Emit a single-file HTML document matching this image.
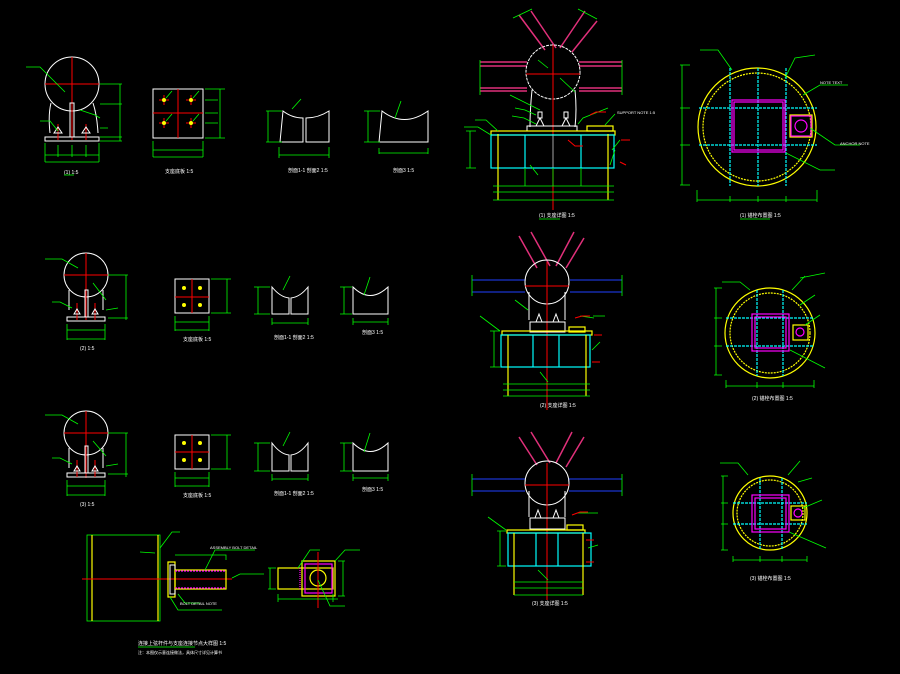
<!DOCTYPE html>
<html><head><meta charset="utf-8"><style>
html,body{margin:0;padding:0;background:#000;}
svg{display:block}
text{font-family:"Liberation Sans","Noto Sans CJK SC",sans-serif;font-size:5px;fill:#fff}
.w{stroke:#fff;fill:none;stroke-width:1}
.g{stroke:#0f0;fill:none;stroke-width:.8}
.r{stroke:#f00;fill:none;stroke-width:1}
.y{stroke:#ff0;fill:none;stroke-width:1.2}
.c{stroke:#0ff;fill:none;stroke-width:1.2}
.m{stroke:#f0f;fill:none;stroke-width:1.2}
.p{stroke:#e0307a;fill:none;stroke-width:1.5}
.b{stroke:#2040ff;fill:none;stroke-width:1}
.gt{fill:#0f0}
</style></head><body>
<svg width="900" height="674" viewBox="0 0 900 674" xmlns="http://www.w3.org/2000/svg">
<defs>
<g id="elev">
 <circle cx="0" cy="0" r="1" class="w"/>
</g>
</defs>

<!-- ROW 1 elevation -->
<g>
 <circle cx="72" cy="84" r="27" class="w"/>
 <line x1="45" y1="84" x2="99" y2="84" class="r"/>
 <line x1="72" y1="57" x2="72" y2="140" class="r"/>
 <path d="M51 103 Q48 115 50 133 M93 103 Q97 115 98 133" class="w"/>
 <rect x="45" y="137" width="54" height="4" class="w"/>
 <rect x="70" y="103" width="4" height="34" class="w"/>
 <line x1="58" y1="124" x2="58" y2="140" class="r"/><line x1="86" y1="124" x2="86" y2="140" class="r"/>
 <path d="M54 133 l4 -6 l4 6 Z M82 133 l4 -6 l4 6 Z" class="w"/>
 <path d="M26 67 L40 67 L65 92 M40 121 L50 121 L58 131 M80 110 L95 115 L100 118 M100 128 L108 128" class="g"/>
 <path d="M45 143 V162 M99 143 V162 M45 155 H99 M45 162 H99 M58 145 V157 M72 145 V157 M86 145 V157" class="g"/>
 <path d="M100 84 H122 M100 104 H122 M100 137 H122 M100 141 H122 M120 84 V141" class="g"/>
 <text x="64" y="174" class="gt" fill="#fff" style="fill:#fff">(1) 1:5</text>
 <line x1="64" y1="175" x2="74" y2="175" class="g"/>
</g>
<!-- ROW1 plan -->
<g>
 <rect x="153" y="89" width="50" height="49" class="w"/>
 <line x1="153" y1="113" x2="203" y2="113" class="r"/><line x1="178" y1="89" x2="178" y2="138" class="r"/>
 <g class="r"><path d="M159 100h10M164 95v10M186 100h10M191 95v10M159 123h10M164 118v10M186 123h10M191 118v10"/></g>
 <g fill="#ff0"><circle cx="164" cy="100" r="2"/><circle cx="191" cy="100" r="2"/><circle cx="164" cy="123" r="2"/><circle cx="191" cy="123" r="2"/></g>
 <path d="M166 98 L172 91 M193 98 L199 91 M166 121 L172 114 M193 121 L199 114" class="g"/>
 <path d="M205 89 H225 M205 138 H225 M220 89 V138 M205 100 H218 M205 113 H218 M205 123 H218 M153 141 V157 M203 141 V157 M153 150 H203 M153 157 H203" class="g"/>
 <text x="165" y="173" style="fill:#fff">支座底板 1:5</text>
</g>
<!-- ROW1 sections -->
<g>
 <path d="M283 111 L280 142 H303 V118 Q292 118 283 111 Z M306 142 V118 Q318 118 329 111 L329 142 Z" class="w"/>
 <path d="M266 111 H282 M266 142 H282 M268 111 V142 M279 147 V158 M329 147 V158 M279 155 H329 M292 109 L301 99" class="g"/>
 <text x="288" y="172" style="fill:#fff">剖面1-1 剖面2 1:5</text>
 <path d="M382 111 L379 142 H428 V111 Q404 128 382 111 Z" class="w"/>
 <path d="M364 111 H380 M364 142 H380 M368 111 V142 M379 148 V154 M428 148 V154 M379 153 H428 M395 118 L401 101" class="g"/>
 <text x="393" y="172" style="fill:#fff">剖面3 1:5</text>
</g>

<!-- ROW 2 -->
<g>
 <circle cx="86" cy="275" r="22" class="w"/>
 <line x1="64" y1="275" x2="108" y2="275" class="r"/><line x1="86" y1="253" x2="86" y2="320" class="r"/>
 <path d="M69 290 V310 M103 290 V310" class="w"/>
 <rect x="67" y="317" width="38" height="4" class="w"/>
 <rect x="85" y="290" width="3" height="27" class="w"/>
 <line x1="77" y1="303" x2="77" y2="320" class="r"/><line x1="95" y1="303" x2="95" y2="320" class="r"/>
 <path d="M74 314 l3 -5 l3 5 Z M92 314 l3 -5 l3 5 Z" class="w"/>
 <path d="M45 259 L62 259 L78 268 M52 302 L60 302 L72 308 M93 283 L106 300 M106 310 L118 308" class="g"/>
 <path d="M108 275 H128 M108 318 H128 M126 275 V320 M67 324 V340 M105 324 V340 M67 330 H105 M67 339 H105" class="g"/>
 <text x="80" y="350" style="fill:#fff">(2) 1:5</text>
 <rect x="175" y="279" width="34" height="34" class="w"/>
 <line x1="175" y1="297" x2="209" y2="297" class="r"/><line x1="192" y1="279" x2="192" y2="313" class="r"/>
 <g fill="#ff0"><circle cx="184" cy="288" r="2"/><circle cx="200" cy="288" r="2"/><circle cx="184" cy="305" r="2"/><circle cx="200" cy="305" r="2"/></g>
 <path d="M211 279 H231 M211 313 H231 M227 279 V313 M175 316 V331 M209 316 V331 M175 322 H209 M175 330 H209" class="g"/>
 <text x="183" y="341" style="fill:#fff">支座底板 1:5</text>
 <path d="M272 287 V314 H289 V298 Q280 297 272 287 Z M291 314 V298 Q300 297 308 287 V314 Z" class="w"/>
 <path d="M254 287 H270 M254 314 H270 M258 287 V314 M272 318 V325 M308 318 V325 M272 323 H308 M283 290 L290 276" class="g"/>
 <text x="274" y="339" style="fill:#fff">剖面1-1 剖面2 1:5</text>
 <path d="M353 287 V314 H388 V287 Q370 304 353 287 Z" class="w"/>
 <path d="M340 287 H352 M340 314 H352 M344 287 V314 M353 318 V325 M388 318 V325 M353 322 H388 M364 295 L370 277" class="g"/>
 <text x="362" y="334" style="fill:#fff">剖面3 1:5</text>
</g>

<!-- ROW 3 -->
<g>
 <circle cx="86" cy="433" r="22" class="w"/>
 <line x1="64" y1="433" x2="108" y2="433" class="r"/><line x1="86" y1="411" x2="86" y2="478" class="r"/>
 <path d="M69 448 V468 M103 448 V468" class="w"/>
 <rect x="67" y="473" width="38" height="4" class="w"/>
 <rect x="85" y="446" width="3" height="27" class="w"/>
 <line x1="77" y1="460" x2="77" y2="477" class="r"/><line x1="95" y1="460" x2="95" y2="477" class="r"/>
 <path d="M74 471 l3 -5 l3 5 Z M92 471 l3 -5 l3 5 Z" class="w"/>
 <path d="M45 415 L62 415 L78 424 M52 458 L60 458 L72 464 M93 441 L106 456 M106 466 L118 464" class="g"/>
 <path d="M108 433 H128 M108 474 H128 M126 433 V477 M67 480 V496 M105 480 V496 M67 486 H105 M67 495 H105" class="g"/>
 <text x="80" y="506" style="fill:#fff">(3) 1:5</text>
 <rect x="175" y="435" width="34" height="34" class="w"/>
 <line x1="175" y1="452" x2="209" y2="452" class="r"/><line x1="192" y1="435" x2="192" y2="469" class="r"/>
 <g fill="#ff0"><circle cx="184" cy="443" r="2"/><circle cx="200" cy="443" r="2"/><circle cx="184" cy="460" r="2"/><circle cx="200" cy="460" r="2"/></g>
 <path d="M211 435 H231 M211 469 H231 M227 435 V469 M175 472 V487 M209 472 V487 M175 478 H209 M175 486 H209" class="g"/>
 <text x="183" y="497" style="fill:#fff">支座底板 1:5</text>
 <path d="M272 443 V471 H289 V455 Q280 454 272 443 Z M291 471 V455 Q300 454 308 443 V471 Z" class="w"/>
 <path d="M254 443 H270 M254 471 H270 M258 443 V471 M272 474 V481 M308 474 V481 M272 479 H308 M283 446 L290 432" class="g"/>
 <text x="274" y="495" style="fill:#fff">剖面1-1 剖面2 1:5</text>
 <path d="M353 443 V471 H388 V443 Q370 460 353 443 Z" class="w"/>
 <path d="M340 443 H352 M340 471 H352 M344 443 V471 M353 474 V481 M388 474 V481 M353 478 H388 M364 452 L370 433" class="g"/>
 <text x="362" y="491" style="fill:#fff">剖面3 1:5</text>
</g>

<!-- Bottom-left detail -->
<g>
 <rect x="87" y="535" width="73" height="86" class="g"/>
 <line x1="92" y1="535" x2="92" y2="621" class="y"/><line x1="158" y1="535" x2="158" y2="621" class="y"/>
 <line x1="82" y1="579" x2="232" y2="579" class="r"/>
 <rect x="168" y="562" width="7" height="35" class="y"/>
 <rect x="170" y="565" width="5" height="29" class="w"/>
 <rect x="175" y="570" width="51" height="19" class="y"/>
 <line x1="175" y1="571" x2="226" y2="571" class="m" stroke-dasharray="2 1"/><line x1="175" y1="588" x2="226" y2="588" class="m" stroke-dasharray="2 1"/>
 <path d="M160 548 L172 532 L180 532 M155 553 L140 552 M175 555 H226 V560 M205 570 L215 550 H255 M178 594 L185 603 H200 M170 597 L178 610 H222" class="g"/>
 <text x="210" y="549" style="fill:#fff;font-size:4px">ASSEMBLY BOLT DETAIL</text>
 <text x="180" y="605" style="fill:#fff;font-size:4px">BOLT DETAIL NOTE</text>
 <path d="M232 578 L240 574 H264" class="g"/>
 <rect x="278" y="568" width="55" height="21" class="y"/>
 <rect x="302" y="561" width="33" height="35" class="y"/>
 <rect x="305" y="564" width="27" height="29" class="m"/>
 <circle cx="318" cy="578" r="8" class="y" stroke-width="2"/>
 <line x1="318" y1="552" x2="318" y2="608" class="r"/>
 <line x1="300" y1="568" x2="300" y2="589" class="m" stroke-dasharray="1 1"/>
 <path d="M298 568 L310 550 H320 M335 561 L345 550 H360 M318 580 L330 606 H345 M278 594 V602 M333 594 V602 M278 599 H338 M338 561 H345 M338 596 H345 M343 561 V596 M270 568 V589 M268 568 H276 M268 589 H276" class="g"/>
 <text x="138" y="645" style="fill:#fff">连接上弦杆件与支座连接节点大样图 1:5</text>
 <line x1="138" y1="647" x2="195" y2="647" class="g"/>
 <text x="138" y="654" style="fill:#fff;font-size:4px">注：本图仅示意连接做法，具体尺寸详见计算书</text>
</g>

<!-- Top center elevation -->
<g>
 <path d="M519 15 L545 50 M531 11 L556 48 M585 11 L560 48 M597 21 L572 52" class="p"/>
 <path d="M513 18 L532 9 M578 9 L597 19" class="g"/>
 <path d="M480 62 H527 M480 66 H527 M480 88 H527 M480 91 H527 M579 62 H622 M579 66 H622 M579 88 H622 M579 91 H622" class="p" stroke-width="1" stroke="#c0608a"/>
 <path d="M480 60 V95 M622 60 V95" class="g"/>
 <circle cx="553" cy="72" r="27" class="w" stroke-dasharray="3 1"/>
 <line x1="526" y1="74" x2="580" y2="74" class="r"/>
 <line x1="553" y1="45" x2="553" y2="210" class="r"/>
 <line x1="553" y1="134" x2="553" y2="168" stroke="#888" stroke-width="1.2"/>
 <path d="M532 90 Q530 110 530 127 M575 90 Q577 110 575 127" class="w"/>
 <rect x="527" y="126" width="50" height="5" class="w"/>
 <path d="M536 126 l4 -8 l4 8 Z M562 126 l4 -8 l4 8 Z" class="w"/>
 <rect x="538" y="112" width="4" height="6" class="w"/><rect x="564" y="112" width="4" height="6" class="w"/>
 <rect x="587" y="126" width="26" height="5" class="y"/>
 <rect x="491" y="131" width="124" height="4" class="y"/>
 <rect x="491" y="135" width="123" height="33" class="c"/>
 <line x1="525" y1="135" x2="525" y2="168" class="c"/><line x1="581" y1="135" x2="581" y2="168" class="c"/>
 <line x1="498" y1="134" x2="498" y2="200" class="y"/><line x1="608" y1="134" x2="608" y2="200" class="y"/>
 <path d="M493 186 H614 M493 192 H614 M493 200 H614 M525 168 V186 M553 168 V186 M581 168 V186" class="g"/>
 <path d="M475 120 H486 L498 131 M464 127 H478 L491 135 M510 95 L520 100 L540 110 M515 108 L525 110 L536 115 M512 116 L524 118 L536 124 M608 108 L583 118 L578 124 M615 114 L605 125 M620 140 L612 150 M615 150 L610 165 M530 165 L538 175 M538 60 L548 68 M560 78 L575 92 M470 131 V168 M466 131 H476 M466 168 H476" class="g"/>
 <path d="M590 115 L596 112 H606 M568 140 L575 146 H583 M621 140 H630 M620 162 L626 165" class="r"/>
 <text x="617" y="114" style="fill:#fff;font-size:4px">SUPPORT NOTE 1:5</text>
 <text x="539" y="217" style="fill:#fff">(1) 支座详图 1:5</text>
 <line x1="539" y1="219" x2="560" y2="219" class="g"/>
</g>

<!-- Top right plan -->
<g>
 <circle cx="757" cy="127" r="59" class="y"/>
 <circle cx="757" cy="127" r="54" class="y" stroke-dasharray="2 1" stroke-width="2"/>
 <path d="M730 68 V186 M758 68 V186 M786 68 V186" class="c" stroke-dasharray="3 1"/>
 <path d="M699 108 H817 M699 145 H817" class="c" stroke-dasharray="3 1"/>
 <rect x="732" y="100" width="53" height="52" class="m"/>
 <rect x="734" y="102" width="49" height="48" class="m" stroke-width=".6"/>
 <rect x="790" y="115" width="22" height="22" class="y"/>
 <rect x="791" y="116" width="20" height="20" class="m"/>
 <circle cx="801" cy="126" r="6" class="m"/>
 <path d="M682 65 V185 M680 65 H690 M680 108 H690 M680 145 H690 M680 185 H690 M697 190 V202 M817 190 V202 M697 200 H817 M730 196 V202 M758 196 V202 M786 196 V202 M700 50 L718 50 L732 70 M785 78 L795 58 L815 55 M803 95 L820 85 L848 85 M810 128 L835 145 L860 145 M786 153 L820 170 L835 170" class="g"/>
 <text x="820" y="84" style="fill:#fff;font-size:4px">NOTE TEXT</text>
 <text x="840" y="145" style="fill:#fff;font-size:4px">ANCHOR NOTE</text>
 <text x="740" y="217" style="fill:#fff">(1) 锚栓布置图 1:5</text>
 <line x1="740" y1="219" x2="770" y2="219" class="g"/>
</g>

<!-- Middle center -->
<g>
 <path d="M519 236 L537 268 M531 232 L550 266 M574 232 L556 266 M584 238 L566 268" class="p"/>
 <path d="M472 280 H525 M472 292 H525 M570 280 H622 M570 292 H622" class="b"/>
 <path d="M472 275 V296 M622 275 V296" class="g"/>
 <circle cx="547" cy="282" r="22" class="w"/>
 <line x1="525" y1="286" x2="569" y2="286" class="r"/>
 <line x1="547" y1="262" x2="547" y2="410" class="r"/>
 <path d="M529 292 V320 M565 292 V320" class="w"/>
 <rect x="530" y="322" width="35" height="10" class="w"/>
 <path d="M536 322 l3 -8 l3 8 Z M553 322 l3 -8 l3 8 Z" class="w"/>
 <rect x="569" y="327" width="16" height="5" class="y"/>
 <rect x="502" y="331" width="90" height="4" class="y"/>
 <rect x="501" y="335" width="89" height="32" class="c"/>
 <line x1="533" y1="335" x2="533" y2="367" class="c"/><line x1="559" y1="335" x2="559" y2="367" class="c"/>
 <line x1="508" y1="335" x2="508" y2="396" class="y"/><line x1="586" y1="335" x2="586" y2="396" class="y"/>
 <path d="M503 384 H590 M503 390 H590 M503 396 H590 M494 331 V367 M490 331 H500 M490 367 H500 M480 316 L500 331 M540 372 L548 382 M515 300 L528 310 M580 316 L594 318 M593 316 L605 316 M592 350 L600 342" class="g"/>
 <path d="M575 318 L582 316 H590 M594 335 H602 M592 362 H600" class="r"/>
 <text x="540" y="407" style="fill:#fff">(2) 支座详图 1:5</text>
</g>

<!-- Middle right -->
<g>
 <circle cx="770" cy="333" r="45" class="y"/>
 <circle cx="770" cy="333" r="40" class="y" stroke-dasharray="2 1" stroke-width="2"/>
 <path d="M757 290 V376 M783 290 V376" class="c" stroke-dasharray="3 1"/>
 <path d="M726 318 H814 M726 346 H814" class="c" stroke-dasharray="3 1"/>
 <rect x="752" y="314" width="37" height="37" class="m"/>
 <rect x="755" y="317" width="31" height="31" class="m" stroke-width=".6"/>
 <rect x="793" y="325" width="15" height="15" class="y"/>
 <circle cx="800" cy="332" r="4" class="m"/>
 <path d="M716 288 V375 M714 288 H722 M714 318 H722 M714 346 H722 M714 375 H722 M726 380 V388 M814 380 V388 M726 386 H814 M757 382 V388 M783 382 V388 M722 282 L740 282 L750 290 M792 290 L805 276 M800 305 L815 295 M805 325 L820 315 M790 350 L825 368 M800 278 L825 273" class="g"/>
 <text x="752" y="400" style="fill:#fff">(2) 锚栓布置图 1:5</text>
</g>

<!-- Bottom center -->
<g>
 <path d="M519 437 L537 465 M531 432 L550 463 M572 432 L556 463 M584 437 L566 467" class="p"/>
 <path d="M472 479 H525 M472 491 H525 M569 479 H622 M569 491 H622" class="b"/>
 <path d="M472 474 V496 M622 474 V496" class="g"/>
 <circle cx="547" cy="483" r="22" class="w"/>
 <line x1="525" y1="485" x2="569" y2="485" class="r"/>
 <line x1="547" y1="463" x2="547" y2="600" class="r"/>
 <path d="M529 491 V517 M565 491 V517" class="w"/>
 <rect x="530" y="518" width="35" height="11" class="w"/>
 <path d="M535 518 l3 -8 l3 8 Z M553 518 l3 -8 l3 8 Z" class="w"/>
 <rect x="567" y="525" width="16" height="5" class="y"/>
 <rect x="507" y="530" width="78" height="3" class="y"/>
 <rect x="508" y="533" width="83" height="33" class="c"/>
 <line x1="536" y1="533" x2="536" y2="566" class="c"/><line x1="558" y1="533" x2="558" y2="566" class="c"/>
 <line x1="514" y1="533" x2="514" y2="595" class="y"/><line x1="583" y1="533" x2="583" y2="595" class="y"/>
 <path d="M514 582 H583 M514 588 H583 M514 595 H583 M500 531 V566 M497 531 H506 M497 566 H506 M488 517 L506 530 M538 570 L548 580 M577 513 L598 513 M588 548 L598 545" class="g"/>
 <path d="M572 515 L580 512 H588 M586 540 H594 M586 562 H594" class="r"/>
 <text x="532" y="605" style="fill:#fff">(3) 支座详图 1:5</text>
</g>

<!-- Bottom right -->
<g>
 <circle cx="770" cy="513" r="37" class="y"/>
 <circle cx="770" cy="513" r="33" class="y" stroke-dasharray="2 1" stroke-width="2"/>
 <path d="M760 478 V550 M782 478 V550" class="c" stroke-dasharray="3 1"/>
 <path d="M733 503 H807 M733 524 H807" class="c" stroke-dasharray="3 1"/>
 <rect x="752" y="495" width="37" height="37" class="m"/>
 <rect x="755" y="498" width="31" height="31" class="m" stroke-width=".6"/>
 <rect x="791" y="506" width="14" height="14" class="y"/>
 <circle cx="798" cy="513" r="4" class="m"/>
 <path d="M723 476 V550 M721 476 H728 M721 503 H728 M721 524 H728 M721 550 H728 M733 556 V562 M807 556 V562 M733 560 H807 M760 556 V562 M782 556 V562 M720 463 L738 463 L748 475 M788 475 L800 461 M798 482 L812 478 M803 508 L822 500 M789 532 L826 548" class="g"/>
 <text x="750" y="580" style="fill:#fff">(3) 锚栓布置图 1:5</text>
</g>
</svg>
</body></html>
